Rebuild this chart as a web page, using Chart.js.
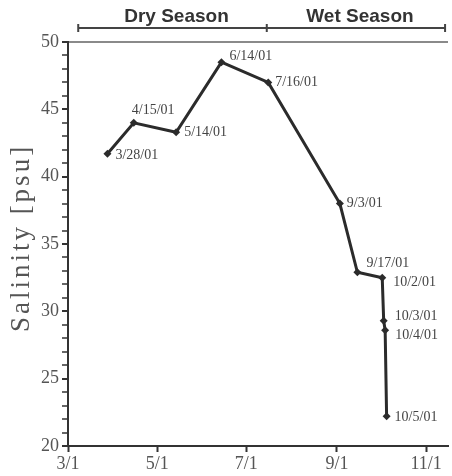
<!DOCTYPE html>
<html>
<head>
<meta charset="utf-8">
<script src="https://cdn.jsdelivr.net/npm/chart.js@4"></script>
<style>
  html, body { margin: 0; padding: 0; background: #fff; }
  #wrap { width: 452px; height: 476px; }
</style>
</head>
<body>
<div id="wrap"><canvas id="salinity-chart" width="452" height="476"></canvas></div>
<script>
// sample dates, their position in days after 3/1, and salinity (psu)
const sampleDates = ["3/28/01", "4/15/01", "5/14/01", "6/14/01", "7/16/01", "9/3/01",
  "9/17/01", "10/2/01", "10/3/01", "10/4/01", "10/5/01"];
const sampleDays = [27, 45, 74, 105, 137, 186, 198, 215, 216, 217, 218];
const salinity = [41.7, 44.0, 43.3, 48.5, 47.0, 38.0, 32.9, 32.5, 29.3, 28.6, 22.2];

// x axis ticks (days after 3/1)
const xTickDays = [0, 61, 122, 184, 245];
const xTickLabels = ["3/1", "5/1", "7/1", "9/1", "11/1"];

// season brackets along the top
const seasonNames = ["Dry Season", "Wet Season"];
const seasonEdges = [7, 136, 258];

const serif = '"Liberation Serif", "Times New Roman", serif';
const sans = '"Liberation Sans", Arial, sans-serif';
const ink = "#2b2b2b";
const grey = "#555";

// where each date label sits relative to its point [dx, dy]
const labelOffsets = [[8, 2], [-2, -12], [8, 0], [8, -6], [7, 0], [7, 0],
  [9, -9], [11, 5], [11, -4], [10, 5], [8, 1]];

const pointLabels = {
  id: "pointLabels",
  afterDatasetsDraw(chart) {
    const ctx = chart.ctx;
    const meta = chart.getDatasetMeta(0);
    ctx.save();
    ctx.font = `14px ${serif}`;
    ctx.fillStyle = "#444";
    ctx.textAlign = "left";
    ctx.textBaseline = "middle";
    meta.data.forEach((pt, i) => {
      const [dx, dy] = labelOffsets[i];
      ctx.fillText(sampleDates[i], pt.x + dx, pt.y + dy);
    });
    ctx.restore();
  },
};

const seasonBars = {
  id: "seasonBars",
  afterDraw(chart) {
    const ctx = chart.ctx;
    const x = chart.scales.x;
    const barY = 28;
    ctx.save();
    ctx.strokeStyle = "#444";
    ctx.lineWidth = 2;
    const px = seasonEdges.map((d) => x.getPixelForValue(d));
    ctx.beginPath();
    ctx.moveTo(px[0], barY);
    ctx.lineTo(px[px.length - 1], barY);
    for (const p of px) {
      ctx.moveTo(p, barY - 4);
      ctx.lineTo(p, barY + 4);
    }
    ctx.stroke();
    ctx.font = `bold 19px ${sans}`;
    ctx.fillStyle = "#333";
    ctx.textAlign = "center";
    ctx.textBaseline = "alphabetic";
    seasonNames.forEach((name, i) => {
      ctx.fillText(name, (px[i] + px[i + 1]) / 2 + 4, 22);
    });
    ctx.restore();
  },
};

const yTitle = {
  id: "yTitle",
  afterDraw(chart) {
    const ctx = chart.ctx;
    const area = chart.chartArea;
    ctx.save();
    ctx.translate(22, (area.top + area.bottom) / 2 - 6);
    ctx.rotate(-Math.PI / 2);
    ctx.font = `27px ${serif}`;
    ctx.letterSpacing = "3px";
    ctx.fillStyle = grey;
    ctx.textAlign = "center";
    ctx.textBaseline = "middle";
    ctx.fillText("Salinity [psu]", 0, 0);
    ctx.restore();
  },
};

const ctx = document.getElementById("salinity-chart").getContext("2d");
new Chart(ctx, {
  type: "line",
  data: {
    datasets: [{
      data: sampleDays.map((d, i) => ({ x: d, y: salinity[i] })),
      borderColor: ink,
      borderWidth: 3,
      backgroundColor: ink,
      pointStyle: "rectRot",
      pointRadius: 4,
      pointBorderWidth: 0,
      tension: 0,
    }],
  },
  options: {
    responsive: false,
    animation: false,
    layout: { padding: { top: 42, left: 0, right: 0, bottom: 0 } },
    plugins: {
      legend: { display: false },
      tooltip: { enabled: false },
    },
    scales: {
      x: {
        type: "linear",
        min: 0,
        max: 260,
        afterBuildTicks: (axis) => {
          axis.ticks = xTickDays.map((v) => ({ value: v }));
        },
        afterFit: (axis) => { axis.height = 30; },
        ticks: {
          autoSkip: false,
          maxRotation: 0,
          padding: 1,
          color: grey,
          font: { family: serif, size: 18 },
          callback: (v) => xTickLabels[xTickDays.indexOf(v)] ?? "",
        },
        grid: { drawOnChartArea: false, tickLength: 6, tickColor: "#333", tickWidth: 2 },
        border: { color: "#333", width: 2 },
      },
      y: {
        min: 20,
        max: 50,
        afterBuildTicks: (axis) => {
          const t = [];
          for (let v = 20; v <= 50; v++) t.push({ value: v });
          axis.ticks = t;
        },
        afterFit: (axis) => { axis.width = 68; },
        ticks: {
          autoSkip: false,
          padding: 3,
          color: grey,
          font: { family: serif, size: 18 },
          callback: (v) => (v % 5 === 0 ? v : ""),
        },
        grid: {
          drawOnChartArea: true,
          color: (c) => (c.tick && c.tick.value === 50 ? "#8a8a8a" : "rgba(0,0,0,0)"),
          lineWidth: 2,
          tickLength: 6,
          tickColor: "#333",
          tickWidth: (c) => (c.tick && c.tick.value % 5 === 0 ? 2 : 1.5),
        },
        border: { color: "#333", width: 2 },
      },
    },
  },
  plugins: [pointLabels, seasonBars, yTitle],
});
</script>
</body>
</html>
